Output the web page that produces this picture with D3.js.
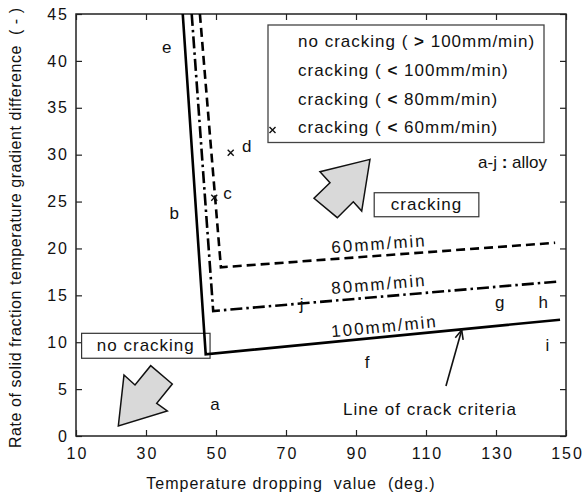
<!DOCTYPE html>
<html><head><meta charset="utf-8">
<script src="https://cdn.jsdelivr.net/npm/d3@7"></script>
<style>
body{margin:0;background:#fff;}
svg text{font-family:Arial,"Liberation Sans",Helvetica,sans-serif;fill:#111;white-space:pre;}
</style></head>
<body><svg id="chart" width="584" height="497"></svg>
<script>
// ---- data ----
const xTicks = [10,30,50,70,90,110,130,150];
const yTicks = [0,5,10,15,20,25,30,35,40,45];
const line100 = [[40.5,45],[47.06,8.71],[148.3,12.4]];
const line80  = [[43.06,45],[49.2,13.33],[147.3,16.46]];
const line60  = [[45.4,45],[51.4,17.99],[146.9,20.6]];
const lineNames = ["100mm/min","80mm/min","60mm/min"];
const lineLabelX = [83.1,83.1,83.1];
const lineLabelY = [10.52,15.14,19.5];
const alloyNames = ["a","b","c","d","e","f","g","h","i","j"];
const alloyX = [49.7,38.1,53.3,58.8,35.9,93.2,131.1,143.5,144.7,74.5];
const alloyY = [3.38,23.75,25.9,30.85,41.4,7.8,14.2,14.2,9.7,13.97];
const crackX = [49.5,54.2];   // cracking (<60mm/min) points
const crackY = [25.4,30.2];
const legendPre = ["no cracking ( ","cracking ( ","cracking ( ","cracking ( "];
const legendSym = [">","<","<","<"];
const legendPost = [" 100mm/min)"," 100mm/min)"," 80mm/min)"," 60mm/min)"];
const arrowUp = [[94.0,29.5],[79.7,28.18],[82.57,27.01],[78.0,25.35],[84.66,23.28],[89.23,24.98],[91.63,23.99]];
const arrowDown = [[22.09,1.07],[23.71,6.5],[26.86,5.44],[31.34,7.5],[37.51,5.54],[33.06,3.49],[36.09,2.67]];

// ---- layout ----
const svg = d3.select("#chart");
const L=76,R=566,T=14,B=436;
const x = d3.scaleLinear().domain([10,150]).range([L,R]);
const y = d3.scaleLinear().domain([0,45]).range([B,T]);

// axes (ticks inward, mirrored)
const tk=6;
const gx = svg.append("g").attr("transform",`translate(0,${B})`)
  .call(d3.axisBottom(x).tickValues(xTicks).tickSizeInner(-tk).tickSizeOuter(0).tickPadding(12));
const gx2 = svg.append("g").attr("transform",`translate(0,${T})`)
  .call(d3.axisTop(x).tickValues(xTicks).tickSizeInner(-tk).tickSizeOuter(0).tickFormat(""));
const gy = svg.append("g").attr("transform",`translate(${L},0)`)
  .call(d3.axisLeft(y).tickValues(yTicks).tickSizeInner(-tk).tickSizeOuter(0).tickPadding(9));
const gy2 = svg.append("g").attr("transform",`translate(${R},0)`)
  .call(d3.axisRight(y).tickValues(yTicks).tickSizeInner(-tk).tickSizeOuter(0).tickFormat(""));
[gx,gx2,gy,gy2].forEach(g=>{
  g.select(".domain").remove();
  g.selectAll(".tick line").attr("stroke","#222").attr("stroke-width",1.2);
  g.selectAll("text").attr("font-size",16).attr("fill","#111").style("letter-spacing","2px")
   .attr("font-family","Arial,'Liberation Sans',sans-serif");
});
gx.selectAll("text").attr("dx","1px");
gy.selectAll("text").attr("dx","2px");
svg.append("rect").attr("x",L).attr("y",T).attr("width",R-L).attr("height",B-T)
  .attr("fill","none").attr("stroke","#222").attr("stroke-width",1.5);

// axis titles
svg.append("text").attr("x",291).attr("y",489).attr("text-anchor","middle")
  .attr("font-size",16).style("letter-spacing","1px")
  .text("Temperature dropping  value  (deg.)");
svg.append("text").attr("transform","translate(21,228) rotate(-90)").attr("text-anchor","middle")
  .attr("font-size",16).attr("textLength",440).attr("lengthAdjust","spacing")
  .text("Rate of solid fraction temperature gradient difference  ( - )");

// region boxes (drawn below the lines)
function boxLabel(x0,x1,y0,y1,label){
  svg.append("rect").attr("x",x(x0)).attr("y",y(y1)).attr("width",x(x1)-x(x0)).attr("height",y(y0)-y(y1))
    .attr("fill","#fff").attr("stroke","#333").attr("stroke-width",1.2);
  svg.append("text").attr("x",(x(x0)+x(x1))/2).attr("y",(y(y0)+y(y1))/2).attr("text-anchor","middle")
    .attr("dominant-baseline","central").attr("font-size",17).style("letter-spacing","1px").text(label);
}
boxLabel(95.2,125.1,23.38,25.94,"cracking");
boxLabel(11.6,48.3,8.29,10.95,"no cracking");

// criteria lines
const lg = d3.line().x(d=>x(d[0])).y(d=>y(d[1]));
const lines=[line100,line80,line60];
const dashes=[null,"12,4,2.5,4","9,5"];
lines.forEach((ln,i)=>{
  svg.append("path").attr("d",lg(ln)).attr("fill","none").attr("stroke","#000")
    .attr("stroke-width",2.6).attr("stroke-dasharray",dashes[i]).attr("stroke-linejoin","miter");
  const a=ln[1], b=ln[2];
  const ang=Math.atan2(y(b[1])-y(a[1]), x(b[0])-x(a[0]))*180/Math.PI;
  svg.append("text").attr("transform",`translate(${x(lineLabelX[i])},${y(lineLabelY[i])}) rotate(${ang})`)
    .attr("font-size",17).style("letter-spacing","2px").text(lineNames[i]);
});

// alloy labels
alloyNames.forEach((n,i)=>{
  svg.append("text").attr("x",x(alloyX[i])).attr("y",y(alloyY[i])).attr("text-anchor","middle")
    .attr("dominant-baseline","central").attr("font-size",17).text(n);
});
// cracking points (x marks)
function cross(cx,cy,s){
  return `M${cx-s},${cy-s}L${cx+s},${cy+s}M${cx-s},${cy+s}L${cx+s},${cy-s}`;
}
crackX.forEach((v,i)=>{
  svg.append("path").attr("d",cross(x(v),y(crackY[i]),3)).attr("stroke","#111").attr("stroke-width",1.4);
});

// legend
svg.append("rect").attr("x",268).attr("y",25).attr("width",276).attr("height",117.5)
  .attr("fill","#fff").attr("stroke","#444").attr("stroke-width",1.3);
legendPre.forEach((p,i)=>{
  const t=svg.append("text").attr("x",298).attr("y",47.3+i*28.7).attr("font-size",17).style("letter-spacing","1px");
  t.append("tspan").text(p);
  t.append("tspan").attr("font-weight","bold").text(legendSym[i]);
  t.append("tspan").text(legendPost[i]);
});
svg.append("path").attr("d",cross(272.5,130,3)).attr("stroke","#111").attr("stroke-width",1.4);

svg.append("text").attr("x",547).attr("y",167.5).attr("text-anchor","end").attr("font-size",17)
  .html('a-j <tspan font-weight="bold">:</tspan> alloy');

// big arrows
const poly = d3.line().x(d=>x(d[0])).y(d=>y(d[1])).curve(d3.curveLinearClosed);
[arrowUp,arrowDown].forEach(a=>{
  svg.append("path").attr("d",poly(a)).attr("fill","#d9d9d9").attr("stroke","#111")
    .attr("stroke-width",1.5).attr("stroke-linejoin","miter");
});

// line of crack criteria
const tip=[x(120.2),y(11.3)], tail=[x(115.7),y(5.33)];
svg.append("path").attr("d",`M${tail[0]},${tail[1]}L${tip[0]},${tip[1]}`).attr("stroke","#111").attr("stroke-width",1.6);
const ang=Math.atan2(tip[1]-tail[1],tip[0]-tail[0]);
const hl=10, ha=0.42;
svg.append("path").attr("d",`M${tip[0]-hl*Math.cos(ang-ha)},${tip[1]-hl*Math.sin(ang-ha)}L${tip[0]},${tip[1]}L${tip[0]-hl*Math.cos(ang+ha)},${tip[1]-hl*Math.sin(ang+ha)}`)
  .attr("fill","none").attr("stroke","#111").attr("stroke-width",1.6);
svg.append("text").attr("x",430).attr("y",409.5).attr("text-anchor","middle").attr("dominant-baseline","central")
  .attr("font-size",17).style("letter-spacing","1px").text("Line of crack criteria");
</script></body></html>
